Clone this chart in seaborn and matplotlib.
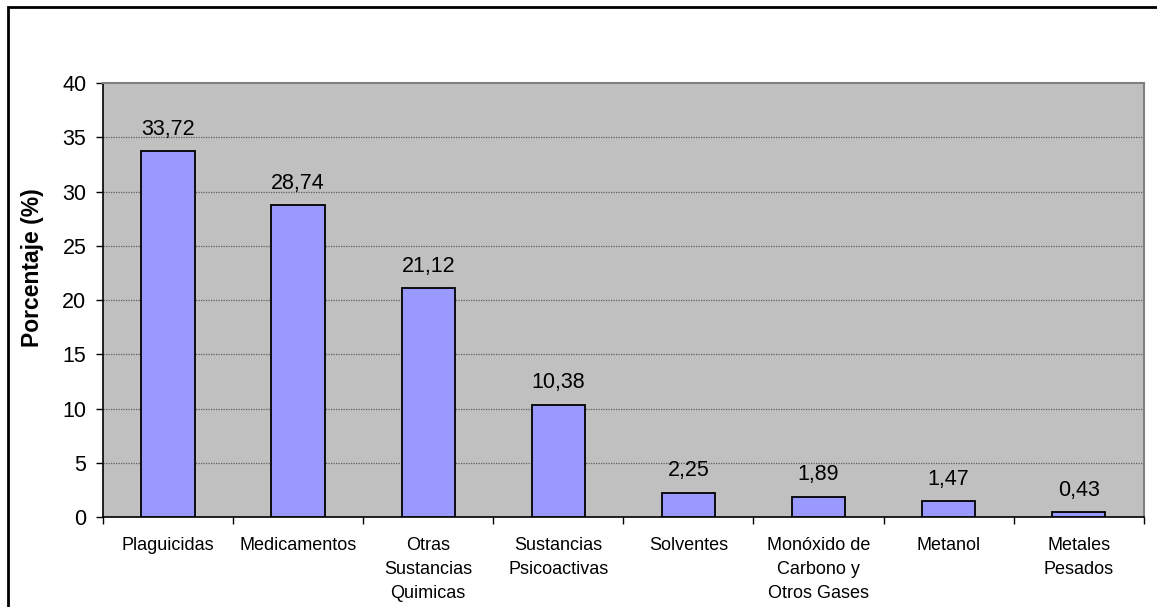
import numpy as np
import pandas as pd
import matplotlib
matplotlib.use('Agg')
import matplotlib.pyplot as plt
import seaborn as sns
from matplotlib.patches import Rectangle

categorias = ['Plaguicidas', 'Medicamentos', 'Otras\nSustancias\nQuimicas',
              'Sustancias\nPsicoactivas', 'Solventes',
              'Monóxido de\nCarbono y\nOtros Gases', 'Metanol', 'Metales\nPesados']
porcentajes = [33.72, 28.74, 21.12, 10.38, 2.25, 1.89, 1.47, 0.43]
y_ticks = [0, 5, 10, 15, 20, 25, 30, 35, 40]

df = pd.DataFrame({'cat': categorias, 'pct': porcentajes})

sns.set_theme(style='white')
plt.rcParams['font.family'] = ['Liberation Sans', 'DejaVu Sans']
plt.rcParams['text.color'] = 'black'
plt.rcParams['xtick.color'] = 'black'
plt.rcParams['ytick.color'] = 'black'
plt.rcParams['axes.labelcolor'] = 'black'

fig = plt.figure(figsize=(11.57, 6.07), dpi=100)
ax = fig.add_axes([0.089, 0.148, 0.8995, 0.715])
ax.set_facecolor('#c0c0c0')

sns.barplot(data=df, x='cat', y='pct', color='#9999ff', saturation=1,
            width=0.41, edgecolor='black', linewidth=1.3, ax=ax, zorder=3)

ax.set_ylim(0, 40)
ax.set_xlim(-0.5, len(categorias) - 0.5)
ax.set_yticks(y_ticks)
ax.set_yticklabels([str(t) for t in y_ticks], fontsize=15.5)

# lineas de grilla punteadas
for t in y_ticks[1:-1]:
    ax.axhline(t, color='#606060', linestyle=(0, (1, 1)), linewidth=0.9, zorder=1)

# etiquetas de valores
for i, v in enumerate(porcentajes):
    ax.text(i, v + 1.5, f'{v:.2f}'.replace('.', ','), ha='center', va='baseline',
            fontsize=15.5, zorder=4)

# ticks entre categorias, etiquetas al centro
ax.set_xticks(np.arange(len(categorias) + 1) - 0.5)
ax.set_xticklabels([])
ax.set_xticks(np.arange(len(categorias)), minor=True)
ax.set_xticklabels(categorias, minor=True, fontsize=13, linespacing=1.55, va='top')
ax.tick_params(axis='x', which='major', direction='out', length=5, width=1, bottom=True)
ax.tick_params(axis='x', which='minor', length=0, pad=14)
ax.tick_params(axis='y', direction='out', length=5, width=1, left=True, pad=7)

ax.set_xlabel('')
ax.set_ylabel('Porcentaje (%)', fontsize=16.5, fontweight='bold')
ax.yaxis.set_label_coords(-0.057, 0.576)

for s in ['left', 'bottom']:
    ax.spines[s].set_color('black')
    ax.spines[s].set_linewidth(1.2)
for s in ['top', 'right']:
    ax.spines[s].set_color('#808080')
    ax.spines[s].set_linewidth(1.5)

# borde exterior del grafico
fig.patches.append(Rectangle((8 / 1157, -0.05), 1.2, 1 - 7 / 607 + 0.05,
                             transform=fig.transFigure, fill=False,
                             edgecolor='black', linewidth=2, clip_on=False))

fig.savefig('out.png', dpi=100, facecolor='white')
